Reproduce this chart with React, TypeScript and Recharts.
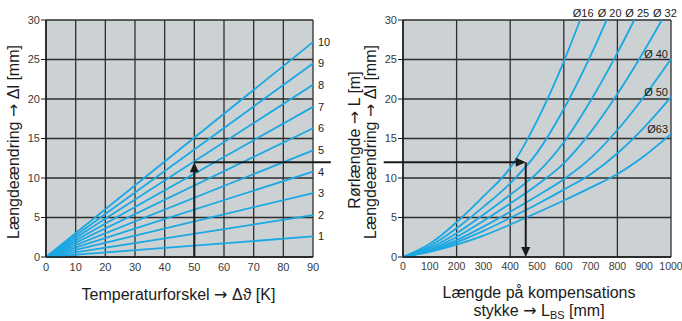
import React from "react";
import { LineChart, Line, XAxis, YAxis, CartesianGrid, ReferenceLine } from "recharts";

const FONT = '"Liberation Sans", Arial, Helvetica, sans-serif';
const ARROW_FONT = '"DejaVu Sans", sans-serif';
const BLUE = "#1aa8e4";
const PLOT_BG = "#ccd1d3";
const GRID = "#2e2e2e";
const INK = "#1b1b1b";
const TICK = "#3a3a3a";

// left chart: Δl at 90 K for the curves 1..10
const curveNames = ["1", "2", "3", "4", "5", "6", "7", "8", "9", "10"];
const deltaAt90 = [2.6, 5.3, 8.1, 10.8, 13.5, 16.3, 19.0, 21.8, 24.5, 27.2];
const tempTicks = [0, 10, 20, 30, 40, 50, 60, 70, 80, 90];
const mmTicks = [0, 5, 10, 15, 20, 25, 30];

// right chart: [L_BS mm, Δl mm] per pipe diameter
const lengthTicks = [0, 100, 200, 300, 400, 500, 600, 700, 800, 900, 1000];
const d16 = [[0, 0], [100, 1.67], [200, 4.4], [300, 7.66], [400, 11.28], [500, 17.24], [600, 24.74], [661, 30]];
const d20 = [[0, 0], [100, 1.37], [200, 3.63], [300, 6.34], [400, 9.33], [500, 13.18], [600, 18.73], [700, 25.5], [760, 30]];
const d25 = [[0, 0], [100, 1.14], [200, 3.02], [300, 5.35], [400, 7.88], [500, 10.61], [600, 14.53], [700, 19.77], [800, 25.84], [863, 30]];
const d32 = [[0, 0], [100, 0.95], [200, 2.54], [300, 4.57], [400, 6.77], [500, 9.12], [600, 11.86], [700, 15.81], [800, 20.64], [900, 26.11], [966, 30]];
const d40 = [[0, 0], [100, 0.82], [200, 2.14], [300, 3.84], [400, 5.72], [500, 7.72], [600, 9.85], [700, 12.52], [800, 16.08], [900, 20.32], [1000, 25.05]];
const d50 = [[0, 0], [100, 0.74], [200, 1.86], [300, 3.3], [400, 4.94], [500, 6.68], [600, 8.53], [700, 10.48], [800, 13.13], [900, 16.42], [1000, 20.24]];
const d63 = [[0, 0], [100, 0.65], [200, 1.56], [300, 2.71], [400, 4.11], [500, 5.6], [600, 7.15], [700, 8.78], [800, 10.5], [900, 12.79], [1000, 15.55]];
const pipeNames = ["Ø16", "Ø 20", "Ø 25", "Ø 32", "Ø 40", "Ø 50", "Ø63"];
const pipeCurves = [d16, d20, d25, d32, d40, d50, d63];

// reading example
const readTemp = 50;
const readDelta = 12;
const readLength = 458;
const leftLineEnd = 96;
const rightLineStart = -72;

const tickStyle = { fontSize: 11, fill: TICK, fontFamily: FONT };
const xTickStyleRight = { fontSize: 10.5, fill: TICK, fontFamily: FONT };

const Arrow = () => <tspan fontFamily={ARROW_FONT}>→</tspan>;

const arrowShape = (head: boolean) => (props: any) => {
  const { x1, y1, x2, y2 } = props;
  const dx = x2 - x1;
  const dy = y2 - y1;
  const len = Math.sqrt(dx * dx + dy * dy) || 1;
  const ux = dx / len;
  const uy = dy / len;
  const L = 10;
  const W = 4.5;
  const bx = x2 - ux * L;
  const by = y2 - uy * L;
  const ex = head ? bx + ux * 1 : x2;
  const ey = head ? by + uy * 1 : y2;
  return (
    <g>
      <line x1={x1} y1={y1} x2={ex} y2={ey} stroke={INK} strokeWidth={2} />
      {head && (
        <polygon
          points={`${x2},${y2} ${bx - uy * W},${by + ux * W} ${bx + uy * W},${by - ux * W}`}
          fill={INK}
        />
      )}
    </g>
  );
};

const leftEndLabel = (name: string) => (props: any) => {
  const { cx, cy, index } = props;
  if (index !== 1) return <g key={`l-${name}-${index}`} />;
  return (
    <text key={`l-${name}`} x={cx + 5} y={cy + 4} fontSize={11} fill={INK} fontFamily={FONT}>
      {name}
    </text>
  );
};

const rightEndLabel = (name: string, last: number, atTop: boolean) => (props: any) => {
  const { cx, cy, index } = props;
  if (index !== last) return <g key={`r-${name}-${index}`} />;
  return (
    <text
      key={`r-${name}`}
      x={atTop ? cx + 3 : cx - 3}
      y={atTop ? cy - 3 : cy - 1}
      textAnchor={atTop ? "middle" : "end"}
      fontSize={11}
      fill={INK}
      fontFamily={FONT}
    >
      {name}
    </text>
  );
};

function LeftChart() {
  return (
    <LineChart width={340} height={321} margin={{ top: 20, right: 27, bottom: 34, left: 0 }}>
      <CartesianGrid fill={PLOT_BG} fillOpacity={1} stroke={GRID} strokeWidth={1.3} />
      <XAxis
        type="number"
        dataKey="x"
        domain={[0, 90]}
        ticks={tempTicks}
        tick={tickStyle}
        tickLine={false}
        tickSize={6}
        tickMargin={0}
        height={30}
        axisLine={{ stroke: INK, strokeWidth: 1.5 }}
        label={(p: any) => (
          <text
            x={p.viewBox.x + p.viewBox.width / 2 - 1}
            y={300}
            textAnchor="middle"
            fontSize={16}
            fill={INK}
            fontFamily={FONT}
          >
            Temperaturforskel <Arrow /> Δϑ [K]
          </text>
        )}
      />
      <YAxis
        type="number"
        domain={[0, 30]}
        ticks={mmTicks}
        tick={tickStyle}
        tickSize={5}
        tickMargin={1}
        width={46}
        stroke={INK}
        axisLine={{ stroke: INK, strokeWidth: 1.5 }}
        label={() => (
          <text
            x={18.5}
            y={142}
            transform="rotate(-90 18.5 142)"
            textAnchor="middle"
            fontSize={16}
            fill={INK}
            fontFamily={FONT}
          >
            Længdeændring <Arrow /> Δl [mm]
          </text>
        )}
      />
      {deltaAt90.map((v, i) => (
        <Line
          key={curveNames[i]}
          data={[
            { x: 0, y: 0 },
            { x: 90, y: v },
          ]}
          dataKey="y"
          type="linear"
          stroke={BLUE}
          strokeWidth={1.8}
          dot={leftEndLabel(curveNames[i])}
          activeDot={false}
          isAnimationActive={false}
        />
      ))}
      <ReferenceLine
        segment={[
          { x: readTemp, y: readDelta },
          { x: leftLineEnd, y: readDelta },
        ]}
        ifOverflow="visible"
        shape={arrowShape(false)}
      />
      <ReferenceLine
        segment={[
          { x: readTemp, y: 0 },
          { x: readTemp, y: readDelta },
        ]}
        ifOverflow="visible"
        shape={arrowShape(true)}
      />
    </LineChart>
  );
}

function RightChart() {
  return (
    <LineChart width={342} height={321} margin={{ top: 20, right: 11, bottom: 34, left: 0 }}>
      <CartesianGrid fill={PLOT_BG} fillOpacity={1} stroke={GRID} strokeWidth={1.3} />
      <XAxis
        type="number"
        dataKey="x"
        domain={[0, 1000]}
        ticks={lengthTicks}
        tick={xTickStyleRight}
        tickLine={false}
        tickSize={6}
        tickMargin={0}
        height={30}
        axisLine={{ stroke: INK, strokeWidth: 1.5 }}
        label={(p: any) => {
          const cx = p.viewBox.x + p.viewBox.width / 2 + 2;
          return (
            <text textAnchor="middle" fontSize={16} fill={INK} fontFamily={FONT}>
              <tspan x={cx} y={298}>Længde på kompensations</tspan>
              <tspan x={cx} y={315.5}>
                stykke <Arrow /> L
                <tspan fontSize={11} dy={3}>BS</tspan>
                <tspan dy={-3}> [mm]</tspan>
              </tspan>
            </text>
          );
        }}
      />
      <YAxis
        type="number"
        domain={[0, 30]}
        ticks={mmTicks}
        tick={tickStyle}
        tickSize={5}
        tickMargin={1}
        width={63}
        stroke={INK}
        axisLine={{ stroke: INK, strokeWidth: 1.5 }}
        label={() => (
          <g fontSize={16} fill={INK} fontFamily={FONT}>
            <text x={19.5} y={140} transform="rotate(-90 19.5 140)" textAnchor="middle">
              Rørlængde <Arrow /> L [m]
            </text>
            <text x={35.5} y={142} transform="rotate(-90 35.5 142)" textAnchor="middle">
              Længdeændring <Arrow /> Δl [mm]
            </text>
          </g>
        )}
      />
      {pipeCurves.map((c, i) => (
        <Line
          key={pipeNames[i]}
          data={c.map(([x, y]) => ({ x, y }))}
          dataKey="y"
          type="monotone"
          stroke={BLUE}
          strokeWidth={1.8}
          dot={rightEndLabel(pipeNames[i], c.length - 1, c[c.length - 1][1] === 30)}
          activeDot={false}
          isAnimationActive={false}
        />
      ))}
      <ReferenceLine
        segment={[
          { x: rightLineStart, y: readDelta },
          { x: readLength, y: readDelta },
        ]}
        ifOverflow="visible"
        shape={arrowShape(true)}
      />
      <ReferenceLine
        segment={[
          { x: readLength, y: readDelta },
          { x: readLength, y: 0 },
        ]}
        ifOverflow="visible"
        shape={arrowShape(true)}
      />
    </LineChart>
  );
}

export default function App() {
  return (
    <div style={{ position: "absolute", left: 0, top: 0, width: 682, height: 321, background: "#fff" }}>
      <div style={{ position: "absolute", left: 0, top: 0 }}>
        <LeftChart />
      </div>
      <div style={{ position: "absolute", left: 340, top: 0 }}>
        <RightChart />
      </div>
    </div>
  );
}
